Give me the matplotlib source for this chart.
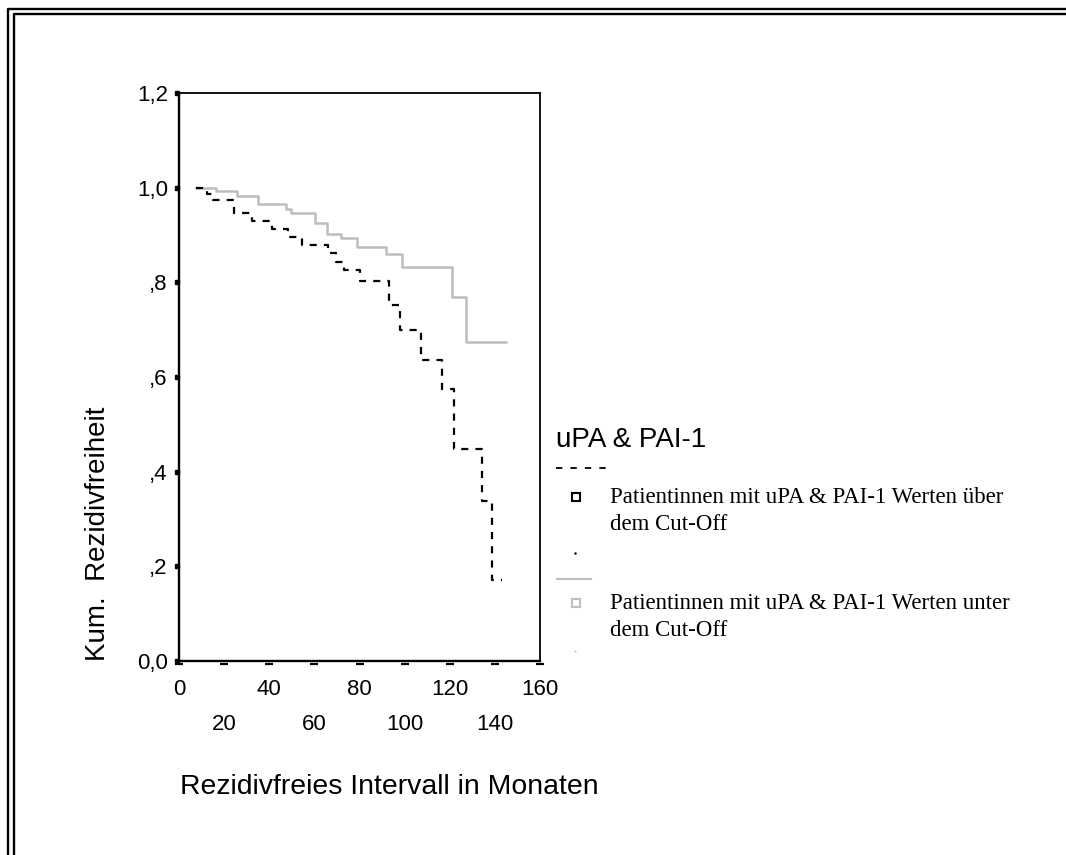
import numpy as np
import matplotlib.pyplot as plt
import matplotlib.transforms as mtransforms
from matplotlib.lines import Line2D

# Kaplan-Meier curves (months, cumulative survival)
t_ueber = [7.5, 12.2, 14.9, 24.3, 32.3, 41.4, 48.3, 54.7, 66.0, 69.8, 73.1,
           80.4, 92.9, 98.1, 107.4, 116.6, 121.7, 134.2, 138.7, 143.1]
s_ueber = [1.0, 0.987, 0.973, 0.946, 0.930, 0.913, 0.896, 0.879, 0.863, 0.842,
           0.825, 0.803, 0.752, 0.699, 0.636, 0.574, 0.447, 0.337, 0.171, 0.171]

t_unter = [7.5, 16.4, 25.5, 34.9, 47.3, 49.5, 60.1, 65.4, 71.6, 78.7, 91.8,
           98.9, 121.0, 127.3, 144.8]
s_unter = [1.0, 0.994, 0.982, 0.965, 0.955, 0.947, 0.926, 0.902, 0.894, 0.875,
           0.859, 0.833, 0.770, 0.673, 0.673]

x_major = [0, 40, 80, 120, 160]
x_minor = [20, 60, 100, 140]
y_ticks = [0.0, 0.2, 0.4, 0.6, 0.8, 1.0, 1.2]
y_labels = ['0,0', ',2', ',4', ',6', ',8', '1,0', '1,2']

legend_title = 'uPA & PAI-1'
label_ueber = 'Patientinnen mit uPA & PAI-1 Werten über\ndem Cut-Off'
label_unter = 'Patientinnen mit uPA & PAI-1 Werten unter\ndem Cut-Off'

W, H = 1066, 855
sans = 'Liberation Sans'
serif = 'Liberation Serif'

fig = plt.figure(figsize=(W / 100, H / 100), dpi=100)


def fx(px):
    return px / W


def fy(py):
    return 1 - py / H


ax = fig.add_axes([fx(179), fy(661), fx(540) - fx(179), fy(93) - fy(661)])

ax.step(t_unter, s_unter, where='post', color='#bdbdbd', lw=1.8)
ax.step(t_ueber, s_ueber, where='post', color='black', lw=1.6,
        linestyle=(0, (3.2, 3.2)))

ax.set_xlim(0, 160)
ax.set_ylim(0, 1.2)

for side in ['left', 'bottom']:
    ax.spines[side].set_linewidth(1.7)
for side in ['top', 'right']:
    ax.spines[side].set_linewidth(1.3)

# y ticks: small squares left of the axis
ax.set_yticks(y_ticks)
ax.set_yticklabels(y_labels, fontfamily=sans, fontsize=16)
ax.tick_params(axis='y', length=0, pad=8)
sq = mtransforms.offset_copy(ax.get_yaxis_transform(), fig=fig, x=-2.5, y=0, units='dots')
ax.plot(np.zeros(len(y_ticks)), y_ticks, 's', ms=3.4, color='black',
        transform=sq, clip_on=False)

# x ticks: two rows of labels, small dashes below the axis
ax.set_xticks(x_major)
ax.set_xticklabels([str(v) for v in x_major], fontfamily=sans, fontsize=16)
ax.set_xticks(x_minor, minor=True)
ax.set_xticklabels([str(v) for v in x_minor], minor=True, fontfamily=sans, fontsize=16)
ax.tick_params(axis='x', which='major', length=0, pad=13)
ax.tick_params(axis='x', which='minor', length=0, pad=38)
dash = mtransforms.offset_copy(ax.get_xaxis_transform(), fig=fig, x=0, y=-3, units='dots')
all_x = sorted(x_major + x_minor)
ax.plot(all_x, np.zeros(len(all_x)), '_', ms=6, mew=1.6, color='black',
        transform=dash, clip_on=False)

# axis titles
fig.text(fx(98), fy(661), 'Kum.  Rezidivfreiheit', rotation=90, ha='center',
         va='bottom', fontfamily=sans, fontsize=20)
fig.text(fx(180), fy(787), 'Rezidivfreies Intervall in Monaten', ha='left',
         va='center', fontfamily=sans, fontsize=20.4)

# legend built by hand, SPSS style
fig.text(fx(556), fy(440), legend_title, ha='left', va='center',
         fontfamily=sans, fontsize=20)
fig.add_artist(Line2D([fx(556), fx(611)], [fy(468), fy(468)], color='black',
                      lw=1.3, linestyle=(0, (3.5, 4.5))))
fig.add_artist(Line2D([fx(576)], [fy(497)], marker='s', ms=5.5, mfc='white',
                      mec='black', mew=1.5))
fig.text(fx(610), fy(487), label_ueber, ha='left', va='top',
         fontfamily=serif, fontsize=16.5, linespacing=1.4)
fig.add_artist(Line2D([fx(575)], [fy(553)], marker='.', ms=1.5, color='black'))
fig.add_artist(Line2D([fx(557), fx(591)], [fy(579), fy(579)], color='#c0c0c0', lw=1.6))
fig.add_artist(Line2D([fx(576)], [fy(603)], marker='s', ms=5.5, mfc='white',
                      mec='#c0c0c0', mew=1.5))
fig.text(fx(610), fy(593), label_unter, ha='left', va='top',
         fontfamily=serif, fontsize=16.5, linespacing=1.4)
fig.add_artist(Line2D([fx(575)], [fy(651)], marker='.', ms=1.0, color='#c0c0c0'))

# double frame on the left and top edges
fig.add_artist(Line2D([fx(8), fx(8), fx(W)], [0, fy(9), fy(9)], color='black', lw=1.7))
fig.add_artist(Line2D([fx(13.5), fx(13.5), fx(W)], [0, fy(14.5), fy(14.5)],
                      color='black', lw=1.7))

fig.savefig('out.png', dpi=100)
